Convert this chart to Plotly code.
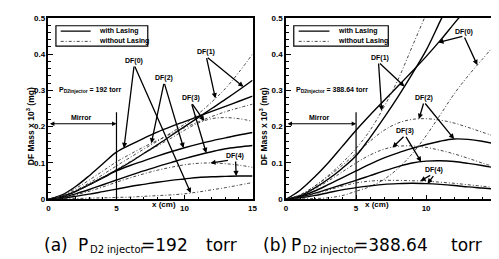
import numpy as np
import plotly.graph_objects as go

# ---------------- data ----------------
x_cm = [0, 1, 2, 3, 4, 5, 6, 7, 8, 9, 10, 11, 12, 13, 14, 15]

# (a) P_D2 injector = 192 torr
a_df0_with    = [0, 0.012, 0.035, 0.065, 0.098, 0.130, 0.150, 0.168, 0.185, 0.200, 0.214, 0.228, 0.242, 0.256, 0.270, 0.284]
a_df0_without = [0, 0.001, 0.002, 0.003, 0.004, 0.005, 0.006, 0.008, 0.010, 0.012, 0.015, 0.020, 0.026, 0.032, 0.039, 0.046]
a_df1_with    = [0, 0.008, 0.022, 0.040, 0.060, 0.080, 0.102, 0.126, 0.150, 0.175, 0.200, 0.225, 0.250, 0.275, 0.301, 0.328]
a_df1_without = [0, 0.009, 0.025, 0.045, 0.068, 0.092, 0.115, 0.138, 0.160, 0.183, 0.207, 0.235, 0.268, 0.305, 0.350, 0.400]
a_df2_with    = [0, 0.008, 0.022, 0.040, 0.059, 0.078, 0.093, 0.106, 0.119, 0.131, 0.142, 0.152, 0.161, 0.169, 0.177, 0.184]
a_df2_without = [0, 0.011, 0.030, 0.053, 0.078, 0.103, 0.124, 0.144, 0.162, 0.180, 0.197, 0.213, 0.228, 0.241, 0.252, 0.262]
a_df3_with    = [0, 0.005, 0.015, 0.027, 0.040, 0.053, 0.066, 0.078, 0.090, 0.101, 0.112, 0.122, 0.131, 0.139, 0.144, 0.148]
a_df3_without = [0, 0.008, 0.022, 0.040, 0.060, 0.082, 0.104, 0.126, 0.147, 0.168, 0.190, 0.210, 0.222, 0.225, 0.222, 0.215]
a_df4_with    = [0, 0.003, 0.008, 0.014, 0.021, 0.028, 0.035, 0.041, 0.047, 0.052, 0.056, 0.060, 0.062, 0.063, 0.064, 0.064]
a_df4_without = [0, 0.004, 0.012, 0.022, 0.034, 0.047, 0.059, 0.070, 0.080, 0.088, 0.095, 0.099, 0.100, 0.098, 0.094, 0.088]

# (b) P_D2 injector = 388.64 torr
b_df0_with    = [0, 0.025, 0.060, 0.100, 0.145, 0.190, 0.232, 0.272, 0.312, 0.352, 0.393, 0.437, 0.484, 0.530, 0.580, 0.630]
b_df0_without = [0, 0.001, 0.002, 0.004, 0.010, 0.022, 0.035, 0.055, 0.085, 0.125, 0.175, 0.232, 0.290, 0.340, 0.385, 0.430]
b_df1_with    = [0, 0.010, 0.030, 0.055, 0.085, 0.120, 0.170, 0.225, 0.283, 0.345, 0.410, 0.490, 0.570, 0.650, 0.730, 0.810]
b_df1_without = [0, 0.012, 0.035, 0.065, 0.100, 0.140, 0.190, 0.255, 0.330, 0.420, 0.510, 0.600, 0.690, 0.780, 0.870, 0.960]
b_df2_with    = [0, 0.008, 0.022, 0.040, 0.059, 0.078, 0.097, 0.114, 0.128, 0.140, 0.151, 0.160, 0.166, 0.165, 0.160, 0.152]
b_df2_without = [0, 0.012, 0.035, 0.062, 0.093, 0.126, 0.160, 0.190, 0.210, 0.220, 0.222, 0.218, 0.210, 0.198, 0.185, 0.172]
b_df3_with    = [0, 0.006, 0.016, 0.028, 0.040, 0.052, 0.065, 0.078, 0.090, 0.100, 0.105, 0.106, 0.104, 0.099, 0.093, 0.086]
b_df3_without = [0, 0.010, 0.028, 0.050, 0.075, 0.100, 0.122, 0.138, 0.146, 0.147, 0.143, 0.135, 0.125, 0.113, 0.100, 0.088]
b_df4_with    = [0, 0.004, 0.010, 0.018, 0.026, 0.032, 0.037, 0.041, 0.043, 0.044, 0.043, 0.041, 0.038, 0.034, 0.031, 0.028]
b_df4_without = [0, 0.005, 0.014, 0.025, 0.036, 0.045, 0.050, 0.052, 0.052, 0.051, 0.050, 0.047, 0.044, 0.040, 0.036, 0.032]

x_ticks = [0, 5, 10, 15]
y_ticks = [0, 0.1, 0.2, 0.3, 0.4, 0.5]
mirror_x = 5

# ---------------- figure ----------------
W, H = 499, 259
fig = go.Figure()

SOLID = dict(color="black", width=1.4)
DASH = dict(color="#333333", width=0.9, dash="3px,2px,1px,2px")

panels = {
    "a": dict(xa="x", ya="y", series=[
        (a_df0_with, SOLID), (a_df0_without, DASH), (a_df1_with, SOLID), (a_df1_without, DASH),
        (a_df2_with, SOLID), (a_df2_without, DASH), (a_df3_with, SOLID), (a_df3_without, DASH),
        (a_df4_with, SOLID), (a_df4_without, DASH)]),
    "b": dict(xa="x2", ya="y2", series=[
        (b_df0_with, SOLID), (b_df0_without, DASH), (b_df1_with, SOLID), (b_df1_without, DASH),
        (b_df2_with, SOLID), (b_df2_without, DASH), (b_df3_with, SOLID), (b_df3_without, DASH),
        (b_df4_with, SOLID), (b_df4_without, DASH)]),
}
for p in panels.values():
    for ys, style in p["series"]:
        fig.add_trace(go.Scatter(x=x_cm, y=ys, mode="lines", line=style,
                                 xaxis=p["xa"], yaxis=p["ya"], showlegend=False,
                                 line_shape="spline", hoverinfo="skip"))

tickfont = dict(family="Liberation Sans", size=8, color="black", weight="bold")
def xaxis(domain, anchor):
    return dict(domain=domain, anchor=anchor, range=[0, 15], tickvals=x_ticks,
                showline=True, linewidth=1.5, linecolor="black", mirror=True,
                ticks="inside", ticklen=5, tickwidth=1.2, tickcolor="black",
                minor=dict(ticks="inside", ticklen=3, dtick=1, tickcolor="black", tickwidth=1),
                showgrid=False, zeroline=False, tickfont=tickfont)
def yaxis(domain, anchor):
    return dict(domain=domain, anchor=anchor, range=[0, 0.5], tickvals=y_ticks,
                ticktext=[("%g" % v) for v in y_ticks],
                showline=True, linewidth=1.5, linecolor="black", mirror=True,
                ticks="inside", ticklen=5, tickwidth=1.2, tickcolor="black",
                minor=dict(ticks="inside", ticklen=3, dtick=0.02, tickcolor="black", tickwidth=1),
                showgrid=False, zeroline=False, tickfont=tickfont)

ydom = [1 - 194 / H, 1 - 6 / H]
fig.update_layout(
    width=W, height=H, margin=dict(l=0, r=0, t=0, b=0),
    paper_bgcolor="white", plot_bgcolor="white", showlegend=False,
    xaxis=xaxis([39 / W, 246 / W], "y"), yaxis=yaxis(ydom, "x"),
    xaxis2=xaxis([280 / W, 493 / W], "y2"), yaxis2=yaxis(ydom, "x2"),
)

small = dict(family="Liberation Sans", size=7, color="black", weight="bold")
ann = []
shapes = []

def add_label(xr, yr, text, lx, ly, tips):
    ann.append(dict(xref=xr, yref=yr, x=lx, y=ly, text=text, showarrow=False, font=small))
    for tx, ty, sx, sy in tips:
        ann.append(dict(xref=xr, yref=yr, x=tx, y=ty, ax=sx, ay=sy, axref=xr, ayref=yr,
                        text="", showarrow=True, arrowhead=2, arrowsize=0.8,
                        arrowwidth=1.3, arrowcolor="black", standoff=0))

def on(xv, ys):
    return float(np.interp(xv, x_cm, ys))

# labels panel (a)
add_label("x", "y", "DF(0)", 6.3, 0.382, [(5.55, on(5.55, a_df0_with), 6.3, 0.37),
                                          (10.46, on(10.46, a_df0_without), 6.3, 0.37)])
add_label("x", "y", "DF(1)", 11.6, 0.405, [(12.27, on(12.27, a_df1_without), 11.6, 0.393),
                                           (14.33, on(14.33, a_df1_with), 11.6, 0.393)])
add_label("x", "y", "DF(2)", 8.5, 0.334, [(7.56, on(7.56, a_df2_without), 8.5, 0.322),
                                          (9.93, on(9.93, a_df2_with), 8.5, 0.322)])
add_label("x", "y", "DF(3)", 10.5, 0.278, [(11.45, on(11.45, a_df3_without), 10.5, 0.266),
                                           (11.6, on(11.6, a_df3_with), 10.5, 0.266)])
add_label("x", "y", "DF(4)", 13.7, 0.12, [(11.9, on(11.9, a_df4_without), 13.3, 0.108),
                                          (13.8, on(13.8, a_df4_with), 13.75, 0.108)])
# labels panel (b)
add_label("x2", "y2", "DF(0)", 12.7, 0.462, [(10.88, on(10.88, b_df0_with), 12.7, 0.45),
                                             (13.66, on(13.66, b_df0_without), 12.7, 0.45)])
add_label("x2", "y2", "DF(1)", 6.7, 0.39, [(6.83, on(6.83, b_df1_without), 6.6, 0.378),
                                           (8.45, on(8.45, b_df1_with), 6.6, 0.378)])
add_label("x2", "y2", "DF(2)", 9.85, 0.28, [(9.49, on(9.49, b_df2_without), 9.85, 0.268),
                                            (12.0, on(12.0, b_df2_with), 9.85, 0.268)])
add_label("x2", "y2", "DF(3)", 8.5, 0.188, [(7.6, on(7.6, b_df3_without), 8.5, 0.176),
                                            (9.65, on(9.65, b_df3_with), 8.5, 0.176)])
add_label("x2", "y2", "DF(4)", 10.6, 0.08, [(9.6, on(9.6, b_df4_without), 10.4, 0.068),
                                            (10.1, on(10.1, b_df4_with), 10.6, 0.068)])

for xr, yr, ptxt in [("x", "y", "= 192 torr"), ("x2", "y2", "= 388.64 torr")]:
    # mirror marker
    shapes.append(dict(type="line", xref=xr, yref=yr, x0=mirror_x, x1=mirror_x, y0=0, y1=0.24,
                       line=dict(color="black", width=1.2)))
    ann.append(dict(xref=xr, yref=yr, x=mirror_x, y=0.208, ax=0, ay=0.208, axref=xr, ayref=yr,
                    text="", showarrow=True, arrowhead=2, arrowside="end+start", arrowsize=0.8,
                    arrowwidth=1.1, arrowcolor="black", standoff=0, startstandoff=0))
    ann.append(dict(xref=xr, yref=yr, x=2.4, y=0.226, text="Mirror", showarrow=False, font=small))
    # pressure text
    ann.append(dict(xref=xr, yref=yr, x=0.6, y=0.3, xanchor="left",
                    text="P<sub>D2injector</sub> " + ptxt, showarrow=False,
                    font=dict(family="Liberation Sans", size=7, color="black", weight="bold")))
    # legend box
    shapes.append(dict(type="rect", xref=xr, yref=yr, x0=0.55, x1=7.3, y0=0.422, y1=0.478,
                       line=dict(color="black", width=1.2), fillcolor="white", layer="above"))
    shapes.append(dict(type="line", xref=xr, yref=yr, x0=0.9, x1=3.1, y0=0.463, y1=0.463,
                       line=dict(color="black", width=1.3)))
    shapes.append(dict(type="line", xref=xr, yref=yr, x0=0.9, x1=3.1, y0=0.435, y1=0.435,
                       line=dict(color="#333333", width=0.9, dash="3px,2px,1px,2px")))
    ann.append(dict(xref=xr, yref=yr, x=3.6, y=0.463, xanchor="left", text="with Lasing",
                    showarrow=False, font=small))
    ann.append(dict(xref=xr, yref=yr, x=3.6, y=0.435, xanchor="left", text="without Lasing",
                    showarrow=False, font=small))

# axis titles
for cx, ly in [(142 / W, 14 / W), (386 / W, 258 / W)]:
    ann.append(dict(xref="paper", yref="paper", x=cx, y=1 - 206 / H, text="x (cm)",
                    showarrow=False, font=dict(family="Liberation Sans", size=8, color="black", weight="bold")))
    ann.append(dict(xref="paper", yref="paper", x=ly, y=1 - 118 / H, textangle=-90,
                    text="DF Mass x 10<sup>3</sup> (mg)", showarrow=False,
                    font=dict(family="Liberation Sans", size=8.5, color="black", weight="bold")))

# captions, placed piece by piece to follow the reference spacing
cap_big = dict(family="DejaVu Sans", size=17, color="black")
cap_sub = dict(family="DejaVu Sans", size=10, color="black")
captions = [
    ("(a)", 32, cap_big, 241), ("P", 67, cap_big, 241), ("D2", 79, cap_sub, 246),
    ("injector", 96, cap_sub, 246), ("=192", 131, cap_big, 241), ("torr", 197, cap_big, 241),
    ("(b)", 255, cap_big, 241), ("P", 283, cap_big, 241), ("D2", 295, cap_sub, 246),
    ("injector", 312, cap_sub, 246), ("=388.64", 347, cap_big, 241), ("torr", 445, cap_big, 241),
]
for txt, px, f, py in captions:
    ann.append(dict(xref="paper", yref="paper", x=px / W, y=1 - py / H, xanchor="left",
                    yanchor="middle", text=txt, showarrow=False, font=f))

fig.update_layout(annotations=ann, shapes=shapes)
fig.write_html("out.html")
